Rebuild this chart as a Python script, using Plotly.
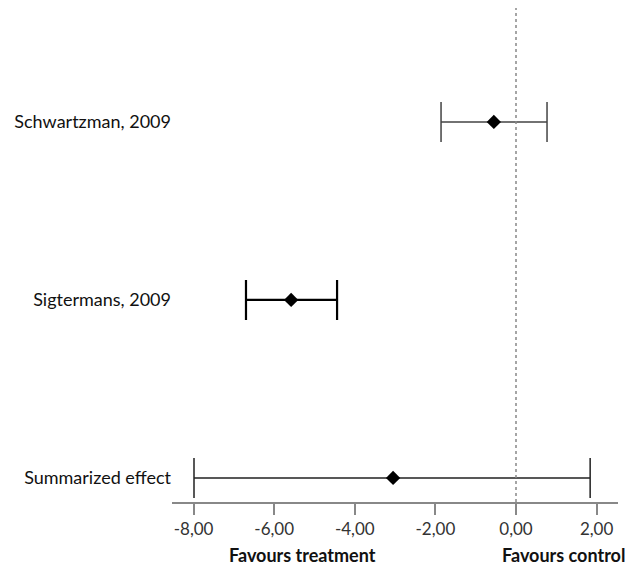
import plotly.graph_objects as go

studies = ["Schwartzman, 2009", "Sigtermans, 2009", "Summarized effect"]
estimates = [-0.55, -5.58, -3.05]
ci_low = [-1.86, -6.70, -7.99]
ci_high = [0.77, -4.44, 1.84]
y_pos = [3, 2, 1]
tick_vals = [-8, -6, -4, -2, 0, 2]
tick_text = ["-8,00", "-6,00", "-4,00", "-2,00", "0,00", "2,00"]
line_colors = ["#444444", "#000000", "#222222"]
line_widths = [1.5, 2.2, 1.5]

fig = go.Figure()
for i in range(len(studies)):
    fig.add_trace(go.Scatter(
        x=[estimates[i]], y=[y_pos[i]], mode="markers",
        marker=dict(symbol="diamond", size=11, color="black"),
        error_x=dict(type="data", symmetric=False,
                     array=[ci_high[i] - estimates[i]],
                     arrayminus=[estimates[i] - ci_low[i]],
                     color=line_colors[i], thickness=line_widths[i], width=20),
        showlegend=False, hoverinfo="skip"))

fig.add_shape(type="line", x0=0, x1=0, xref="x", yref="paper", y0=0, y1=0.984,
              line=dict(color="#888888", width=1.5, dash="dot"))

fig.add_annotation(x=-5.29, y=-0.105, xref="x", yref="paper", text="<b>Favours treatment</b>",
                   showarrow=False, font=dict(size=18, color="#111111"), yanchor="middle")
fig.add_annotation(x=1.17, y=-0.105, xref="x", yref="paper", text="<b>Favours control</b>",
                   showarrow=False, font=dict(size=18, color="#111111"), yanchor="middle")

fig.update_layout(
    width=628, height=567,
    margin=dict(l=172, r=10, t=0, b=65),
    plot_bgcolor="white", paper_bgcolor="white",
    font=dict(family="Lato, 'Open Sans', sans-serif", size=18, color="#111111"),
    xaxis=dict(range=[-8.536, 2.531], tickvals=tick_vals, ticktext=tick_text,
               showgrid=False, zeroline=False, showline=True, linecolor="#888888", linewidth=1.5,
               ticks="outside", ticklen=11, tickcolor="#888888", tickwidth=1.5,
               tickfont=dict(size=17, color="#333333")),
    yaxis=dict(range=[0.865, 3.685], tickvals=y_pos, ticktext=studies,
               showgrid=False, zeroline=False, showline=False, ticks="",
               tickfont=dict(size=18, color="#111111")),
)

fig.write_html("out.html", config={"displayModeBar": False},
               post_script="document.body.style.margin='0';")
